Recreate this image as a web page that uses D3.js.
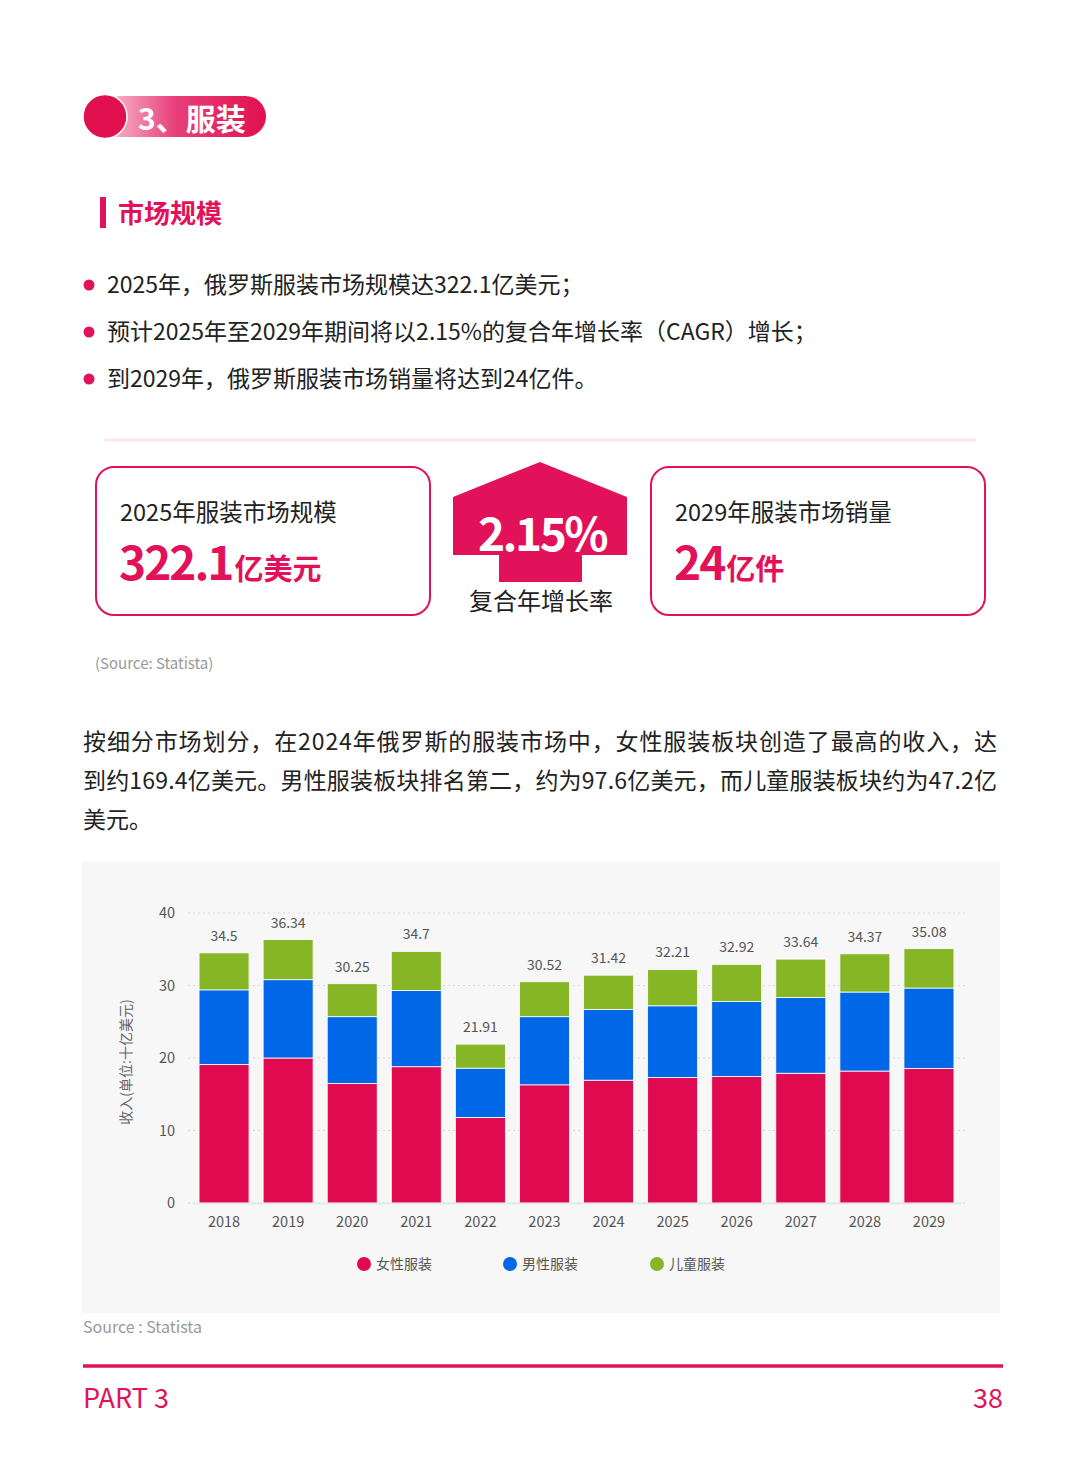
<!DOCTYPE html>
<html>
<head>
<meta charset="utf-8">
<script src="https://cdn.jsdelivr.net/npm/d3@7"></script>
<style>
  body { margin: 0; background: #fff; }
  text { font-family: "Noto Sans CJK SC", "Noto Sans", sans-serif; }
</style>
</head>
<body>
<div id="page"></div>
<script>
// chart data (revenue, billion USD)
const years = ["2018","2019","2020","2021","2022","2023","2024","2025","2026","2027","2028","2029"];
const women = [19.1, 20.0, 16.5, 18.8, 11.8, 16.3, 16.94, 17.3, 17.45, 17.9, 18.2, 18.55];
const men   = [10.3, 10.8, 9.2, 10.5, 6.8, 9.4, 9.76, 9.9, 10.35, 10.45, 10.9, 11.1];
const kids  = [5.1, 5.54, 4.55, 5.4, 3.31, 4.82, 4.72, 5.01, 5.12, 5.29, 5.27, 5.43];
const totals = ["34.5","36.34","30.25","34.7","21.91","30.52","31.42","32.21","32.92","33.64","34.37","35.08"];
const yTicks = [0, 10, 20, 30, 40];
const seriesNames = ["女性服装", "男性服装", "儿童服装"];

const bullets = [
  "2025年，俄罗斯服装市场规模达322.1亿美元；",
  "预计2025年至2029年期间将以2.15%的复合年增长率（CAGR）增长；",
  "到2029年，俄罗斯服装市场销量将达到24亿件。"
];
const para = [
  "按细分市场划分，在2024年俄罗斯的服装市场中，女性服装板块创造了最高的收入，达",
  "到约169.4亿美元。男性服装板块排名第二，约为97.6亿美元，而儿童服装板块约为47.2亿",
  "美元。"
];

const W = 1080, H = 1466;
const RED = "#e2125a";
const colors = ["#e00a50", "#0067e6", "#86b526"];

const svg = d3.select("#page").append("svg")
  .attr("width", W).attr("height", H)
  .attr("viewBox", "0 0 " + W + " " + H);

const defs = svg.append("defs");
const grad = defs.append("linearGradient").attr("id", "pill").attr("x1", "0").attr("x2", "1");
grad.append("stop").attr("offset", "0%").attr("stop-color", "#f9cad8");
grad.append("stop").attr("offset", "45%").attr("stop-color", "#e8407a");
grad.append("stop").attr("offset", "100%").attr("stop-color", "#e0104f");

// header pill
svg.append("rect").attr("x", 100).attr("y", 96).attr("width", 166).attr("height", 41)
  .attr("rx", 20.5).attr("fill", "url(#pill)");
svg.append("circle").attr("cx", 105).attr("cy", 116.5).attr("r", 22)
  .attr("fill", "#e0104f").attr("stroke", "#fff").attr("stroke-width", 1.5);
svg.append("text").attr("x", 138).attr("y", 130).attr("fill", "#fff")
  .attr("font-size", 30).attr("font-weight", 700).text("3、服装");

// section title
svg.append("rect").attr("x", 100).attr("y", 197).attr("width", 6).attr("height", 31).attr("fill", RED);
svg.append("text").attr("x", 118).attr("y", 223).attr("fill", RED)
  .attr("font-size", 26).attr("font-weight", 700).text("市场规模");

// bullets
bullets.forEach((b, i) => {
  const y = 285 + i * 47;
  svg.append("circle").attr("cx", 89).attr("cy", y).attr("r", 5.5).attr("fill", RED);
  svg.append("text").attr("x", 107).attr("y", y + 8).attr("fill", "#222")
    .attr("font-size", 23).text(b);
});

svg.append("line").attr("x1", 104).attr("x2", 976).attr("y1", 440).attr("y2", 440)
  .attr("stroke", "#fbe8ee").attr("stroke-width", 3);

// KPI cards
function card(x, title, big, unit) {
  svg.append("rect").attr("x", x).attr("y", 467).attr("width", 334).attr("height", 148)
    .attr("rx", 18).attr("fill", "#fff").attr("stroke", RED).attr("stroke-width", 2);
  svg.append("text").attr("x", x + 24).attr("y", 521).attr("fill", "#222")
    .attr("font-size", 23.5).text(title);
  const t = svg.append("text").attr("x", x + 23).attr("y", 580).attr("fill", RED).attr("font-weight", 700);
  t.append("tspan").attr("font-size", 46).attr("letter-spacing", -2).text(big);
  t.append("tspan").attr("font-size", 29).attr("dx", 2).attr("letter-spacing", 0).text(unit);
}
card(96, "2025年服装市场规模", "322.1", "亿美元");
card(651, "2029年服装市场销量", "24", "亿件");

// arrow
const arrowPts = [[540,462],[627,497],[627,555],[582,555],[582,582],[499,582],[499,555],[453,555],[453,497]];
svg.append("path").attr("d", d3.line()(arrowPts) + "Z").attr("fill", RED);
svg.append("text").attr("x", 542).attr("y", 551).attr("text-anchor", "middle")
  .attr("fill", "#fff").attr("font-size", 46).attr("font-weight", 700)
  .attr("letter-spacing", -2.5).text("2.15%");
svg.append("text").attr("x", 541).attr("y", 610).attr("text-anchor", "middle")
  .attr("fill", "#222").attr("font-size", 24).text("复合年增长率");

svg.append("text").attr("x", 95).attr("y", 669).attr("fill", "#999")
  .attr("font-size", 15).text("(Source: Statista)");

// paragraph
para.forEach((p, i) => {
  const t = svg.append("text").attr("x", 83).attr("y", 750 + i * 39).attr("fill", "#222")
    .attr("font-size", 23).text(p);
  if (i < 2) t.attr("textLength", 914).attr("lengthAdjust", "spacing");
});

// chart panel
svg.append("rect").attr("x", 82).attr("y", 862).attr("width", 918).attr("height", 451).attr("fill", "#f7f7f7");

const x = d3.scaleBand().domain(years).range([192, 961]).paddingInner(0.22).paddingOuter(0.11);
const y = d3.scaleLinear().domain([0, 40]).range([1203, 913]);

const g = svg.append("g");
g.append("g").selectAll("line").data(yTicks).join("line")
  .attr("x1", 188).attr("x2", 965)
  .attr("y1", d => y(d)).attr("y2", d => y(d))
  .attr("stroke", "#d8d8d8").attr("stroke-width", 1.2).attr("stroke-dasharray", "2,3");

const yAxis = g.append("g").attr("transform", "translate(175,0)")
  .call(d3.axisLeft(y).tickValues(yTicks).tickSize(0).tickPadding(0));
yAxis.select(".domain").remove();
yAxis.selectAll("text").attr("fill", "#555").attr("font-size", 14.5)
  .attr("font-family", "'Noto Sans CJK SC', sans-serif");

g.append("text")
  .attr("transform", "translate(131,1062) rotate(-90)")
  .attr("text-anchor", "middle").attr("fill", "#666").attr("font-size", 14)
  .text("收入(单位:十亿美元)");

const rows = years.map((yr, i) => ({ year: yr, w: women[i], m: men[i], k: kids[i], label: totals[i] }));
const stacked = d3.stack().keys(["w", "m", "k"])(rows);

g.append("g").selectAll("g").data(stacked).join("g")
  .attr("fill", (d, i) => colors[i])
  .selectAll("rect").data(d => d).join("rect")
  .attr("x", d => x(d.data.year))
  .attr("width", x.bandwidth())
  .attr("y", d => y(d[1]))
  .attr("height", d => y(d[0]) - y(d[1]))
  .attr("stroke", "#fff").attr("stroke-width", 0.8);

g.append("g").selectAll("text").data(stacked[2]).join("text")
  .attr("x", d => x(d.data.year) + x.bandwidth() / 2)
  .attr("y", d => y(d[1]) - 12)
  .attr("text-anchor", "middle").attr("fill", "#555").attr("font-size", 14)
  .text(d => d.data.label);

const xAxis = g.append("g").attr("transform", "translate(0,1203)")
  .call(d3.axisBottom(x).tickSize(0).tickPadding(14));
xAxis.select(".domain").attr("stroke", "#e4e4e4").attr("stroke-width", 1.5);
xAxis.selectAll("text").attr("fill", "#555").attr("font-size", 14.5)
  .attr("font-family", "'Noto Sans CJK SC', sans-serif");

// legend
const legX = [364, 510, 657];
const leg = g.append("g").selectAll("g").data(seriesNames).join("g")
  .attr("transform", (d, i) => "translate(" + legX[i] + ",1264)");
leg.append("circle").attr("r", 7).attr("fill", (d, i) => colors[i]);
leg.append("text").attr("x", 12).attr("y", 5).attr("fill", "#555").attr("font-size", 14).text(d => d);

svg.append("text").attr("x", 83).attr("y", 1333).attr("fill", "#999")
  .attr("font-size", 16).text("Source : Statista");

// footer
svg.append("line").attr("x1", 83).attr("x2", 1003).attr("y1", 1366).attr("y2", 1366)
  .attr("stroke", RED).attr("stroke-width", 3.5);
svg.append("text").attr("x", 83).attr("y", 1408).attr("fill", RED).attr("font-size", 27).text("PART 3");
svg.append("text").attr("x", 1003).attr("y", 1408).attr("text-anchor", "end")
  .attr("fill", RED).attr("font-size", 27).text("38");
</script>
</body>
</html>
